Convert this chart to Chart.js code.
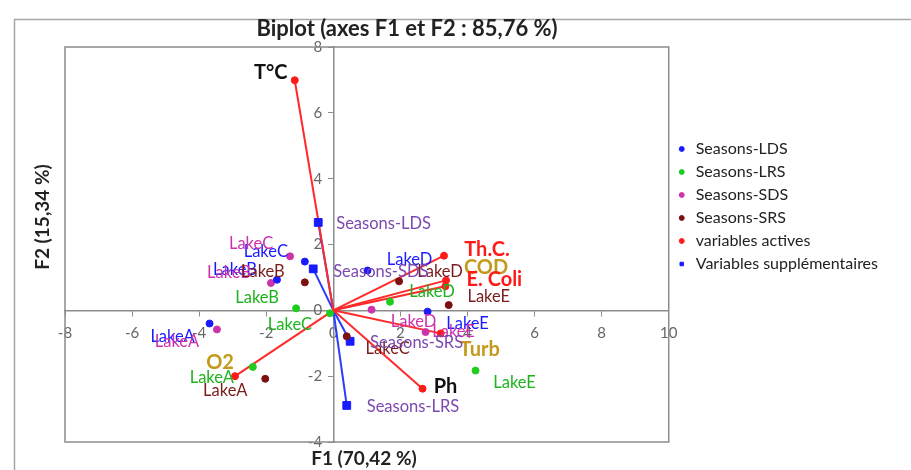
<!DOCTYPE html>
<html>
<head>
<meta charset="utf-8">
<script src="https://cdn.jsdelivr.net/npm/chart.js@4"></script>
<style>
  html, body { margin: 0; padding: 0; background: #fff; }
  #wrap { width: 911px; height: 470px; }
</style>
</head>
<body>
<div id="wrap"><canvas id="biplot"></canvas></div>
<script>
// observations (lakes), one pair of arrays per season
const lakes = ["LakeA", "LakeB", "LakeC", "LakeD", "LakeE"];
const ldsF1 = [-3.69, -1.68, -0.85, 1.02, 2.81];
const ldsF2 = [-0.40, 0.93, 1.48, 1.21, -0.04];
const lrsF1 = [-2.40, -1.11, -0.10, 1.69, 4.24];
const lrsF2 = [-1.72, 0.06, -0.09, 0.26, -1.83];
const sdsF1 = [-3.47, -1.86, -1.29, 1.14, 2.75];
const sdsF2 = [-0.58, 0.83, 1.64, 0.02, -0.66];
const srsF1 = [-2.03, -0.85, 0.40, 1.96, 3.44];
const srsF2 = [-2.08, 0.85, -0.79, 0.88, 0.16];

// active variables
const activeVars = ["T°C", "Th.C.", "COD", "E. Coli", "Turb", "Ph", "O2"];
const activeF1 = [-1.15, 3.30, 3.36, 3.34, 3.20, 2.66, -2.93];
const activeF2 = [6.99, 1.66, 0.91, 0.73, -0.70, -2.38, -2.00];

// supplementary variables
const suppVars = ["Seasons-LDS", "Seasons-SDS", "Seasons-SRS", "Seasons-LRS"];
const suppF1 = [-0.45, -0.60, 0.50, 0.40];
const suppF2 = [2.67, 1.26, -0.94, -2.89];

const xTicksMin = -8, xTicksMax = 10, yTicksMin = -4, yTicksMax = 8;

const FONT = "Lato, 'Open Sans', sans-serif";
const GOLD = "#c49a1c";
const PURPLE = "#7b48b0";

const pts = (xs, ys) => xs.map((x, i) => ({ x: x, y: ys[i] }));

// label placement next to each point (dx, dy in px), kept apart from the data
const labelStyle = {
  "Seasons-LDS": { color: "#1a1aff", off: [[-37, 13], [-42, -10], [-39, -10], [42, -11], [40, 12]] },
  "Seasons-LRS": { color: "#1fb31f", off: [[-41, 11], [-39, -11], [-40, 11], [42, -10], [39, 12]] },
  "Seasons-SDS": { color: "#cc33aa", off: [[-40, 12], [-42, -10], [-39, -13], [42, 12], [28, 0]] },
  "Seasons-SRS": { color: "#7a1c1c", off: [[-40, 12], [-42, -11], [41, 12], [41, -10], [40, -8]] },
  "variables actives": {
    colors: ["#111", "#ff1a1a", GOLD, "#ff1a1a", GOLD, "#111", GOLD],
    off: [[-24, -8], [43, -6], [40, -13], [49, -7], [39, 16], [23, -2], [-15, -14]],
    bold: true
  },
  "Variables supplémentaires": { color: PURPLE, off: [[18, 1], [20, 3], [20, 1], [20, 1]], left: true }
};

const vectorSets = [];
activeF1.forEach((x, i) => vectorSets.push({
  label: "", data: [{ x: 0, y: 0 }, { x: x, y: activeF2[i] }],
  showLine: true, borderColor: "#ff2a2a", borderWidth: 2, pointRadius: 0, order: 5
}));
suppF1.forEach((x, i) => vectorSets.push({
  label: "", data: [{ x: 0, y: 0 }, { x: x, y: suppF2[i] }],
  showLine: true, borderColor: "#2a3cff", borderWidth: 2, pointRadius: 0, order: 5
}));

const labelPlugin = {
  id: "pointLabels",
  afterDatasetsDraw(chart) {
    const ctx = chart.ctx;
    chart.data.datasets.forEach((ds, di) => {
      const st = labelStyle[ds.label];
      if (!st || !ds.names) return;
      const meta = chart.getDatasetMeta(di);
      meta.data.forEach((el, i) => {
        const o = st.off[i] || [0, 0];
        ctx.save();
        ctx.font = (st.bold ? "bold 20px " : "16.5px ") + FONT;
        ctx.fillStyle = st.colors ? st.colors[i] : st.color;
        ctx.textAlign = st.left ? "left" : "center";
        ctx.textBaseline = "middle";
        ctx.fillText(ds.names[i], el.x + o[0], el.y + o[1]);
        ctx.restore();
      });
    });
  }
};

const framePlugin = {
  id: "frame",
  beforeDraw(chart) {
    const ctx = chart.ctx;
    ctx.save();
    ctx.strokeStyle = "#a6a6a6";
    ctx.lineWidth = 1.5;
    ctx.strokeRect(14.5, 19.5, 1000, 1000);
    ctx.restore();
  },
  afterDraw(chart) {
    const ctx = chart.ctx;
    const a = chart.chartArea;
    ctx.save();
    ctx.strokeStyle = "#8c8c8c";
    ctx.lineWidth = 1.5;
    ctx.strokeRect(a.left, a.top, a.right - a.left, a.bottom - a.top);
    ctx.fillStyle = "#222";
    ctx.font = "bold 22px " + FONT;
    ctx.textAlign = "center";
    ctx.textBaseline = "middle";
    ctx.fillText("Biplot (axes F1 et F2 : 85,76 %)", 407, 29);
    ctx.font = "bold 19px " + FONT;
    ctx.fillText("F1 (70,42 %)", 364, 459);
    ctx.translate(43, 217);
    ctx.rotate(-Math.PI / 2);
    ctx.fillText("F2 (15,34 %)", 0, 0);
    ctx.restore();
  }
};

new Chart(document.getElementById("biplot"), {
  type: "scatter",
  data: {
    datasets: [
      { label: "Seasons-LDS", names: lakes, data: pts(ldsF1, ldsF2), backgroundColor: "#1a1aff", borderColor: "#1a1aff", pointRadius: 3.5, order: 1 },
      { label: "Seasons-LRS", names: lakes, data: pts(lrsF1, lrsF2), backgroundColor: "#1fcc1f", borderColor: "#1fcc1f", pointRadius: 3.5, order: 1 },
      { label: "Seasons-SDS", names: lakes, data: pts(sdsF1, sdsF2), backgroundColor: "#cc33aa", borderColor: "#cc33aa", pointRadius: 3.5, order: 1 },
      { label: "Seasons-SRS", names: lakes, data: pts(srsF1, srsF2), backgroundColor: "#7a1010", borderColor: "#7a1010", pointRadius: 3.5, order: 1 },
      { label: "variables actives", names: activeVars, data: pts(activeF1, activeF2), backgroundColor: "#ff1a1a", borderColor: "#ff1a1a", pointRadius: 3.5, order: 1 },
      { label: "Variables supplémentaires", names: suppVars, data: pts(suppF1, suppF2), backgroundColor: "#1a1aff", borderColor: "#1a1aff", pointStyle: "rect", pointRadius: 5.5, order: 1 },
      ...vectorSets
    ]
  },
  options: {
    responsive: true,
    maintainAspectRatio: false,
    animation: false,
    layout: { padding: { left: 65, top: 47, bottom: 28, right: 23 } },
    scales: {
      x: {
        type: "linear", min: xTicksMin, max: xTicksMax,
        position: { y: 0 },
        afterFit: (s) => { s.height = 0; },
        ticks: { stepSize: 2, padding: 9, color: "#666", font: { family: FONT, size: 15 } },
        grid: { drawOnChartArea: false, color: "#8c8c8c", tickLength: 5 },
        border: { color: "#8c8c8c", width: 1.5 }
      },
      y: {
        type: "linear", min: yTicksMin, max: yTicksMax,
        position: { x: 0 },
        afterFit: (s) => { s.width = 0; },
        ticks: { stepSize: 2, color: "#666", font: { family: FONT, size: 15 }, callback: (v) => v + "\u2003" },
        grid: { drawOnChartArea: false, color: "#8c8c8c", tickLength: 5 },
        border: { color: "#8c8c8c", width: 1.5 }
      }
    },
    plugins: {
      tooltip: { enabled: false },
      title: { display: false },
      legend: {
        position: "right",
        align: "start",
        maxWidth: 300,
        title: { display: true, text: "", padding: { top: 75, bottom: 0 }, font: { size: 10 } },
        labels: {
          usePointStyle: true,
          boxWidth: 12,
          boxHeight: 3.5,
          padding: 7,
          color: "#222",
          font: { family: FONT, size: 16 },
          filter: (item) => item.text !== ""
        }
      }
    }
  },
  plugins: [labelPlugin, framePlugin]
});
</script>
</body>
</html>
